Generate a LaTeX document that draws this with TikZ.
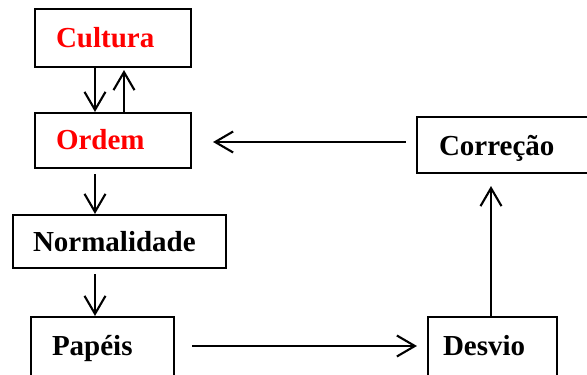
\documentclass[tikz,border=0pt]{standalone}
\usepackage{fontspec}
\setmainfont{Liberation Serif}
\usetikzlibrary{arrows.meta}
\definecolor{txtred}{RGB}{255,0,0}
\tikzset{
  box/.style={draw=black, line width=2.1pt, inner xsep=0pt, inner ysep=0pt,
    align=left, text height=20pt, text depth=2pt,
    font=\fontsize{29}{34}\selectfont\bfseries},
  arr/.style={draw=black, line width=2.1pt,
    -{Straight Barb[length=18pt, width=21pt, line width=2.1pt]}},
}
\begin{document}
\begin{tikzpicture}[x=1pt, y=-1pt]
\clip (0,0) rectangle (587,375);
\useasboundingbox (0,0) rectangle (587,375);
\fill[white] (0,0) rectangle (587,375);

\node[box, text=txtred, minimum height=58pt, text width=156pt] (cul) at (113,38) {\hspace*{21pt}Cultura};
\node[box, text=txtred, minimum height=55pt, text width=156pt] (ord) at (113,140.5) {\hspace*{21pt}Ordem};
\node[box, minimum height=53pt, text width=213pt, text depth=0pt] (nor) at (119.5,241.5) {\hspace*{20pt}Normalidade};
\node[box, minimum height=60pt, text width=143pt, text depth=4pt] (pap) at (102.5,347) {\hspace*{21pt}Papéis};
\node[box, minimum height=60pt, text width=129pt, text depth=4pt] (des) at (492.5,347) {\hspace*{15pt}Desvio};
\node[box, minimum height=56pt, text width=175pt, text depth=0pt] (cor) at (504.5,145) {\hspace*{22pt}Correção};

\draw[arr] ([xshift=-18pt]cul.south) -- ([xshift=-18pt]ord.north);
\draw[arr, shorten >=2pt] ([xshift=11pt]ord.north) -- ([xshift=11pt]cul.south);
\draw[arr, shorten <=5pt] ([xshift=-18pt]ord.south) -- ([xshift=-18pt]ord.south |- nor.north);
\draw[arr, shorten <=5pt] (nor.south -| 95,0) -- (pap.north -| 95,0);
\draw[arr, shorten <=17pt, shorten >=10pt] (pap.east |- 0,346) -- (des.west |- 0,346);
\draw[arr, shorten <=10pt, shorten >=21pt] (cor.west |- 0,142) -- (ord.east |- 0,142);
\draw[arr, shorten >=12pt] (des.north -| 491,0) -- (cor.south -| 491,0);
\end{tikzpicture}
\end{document}
